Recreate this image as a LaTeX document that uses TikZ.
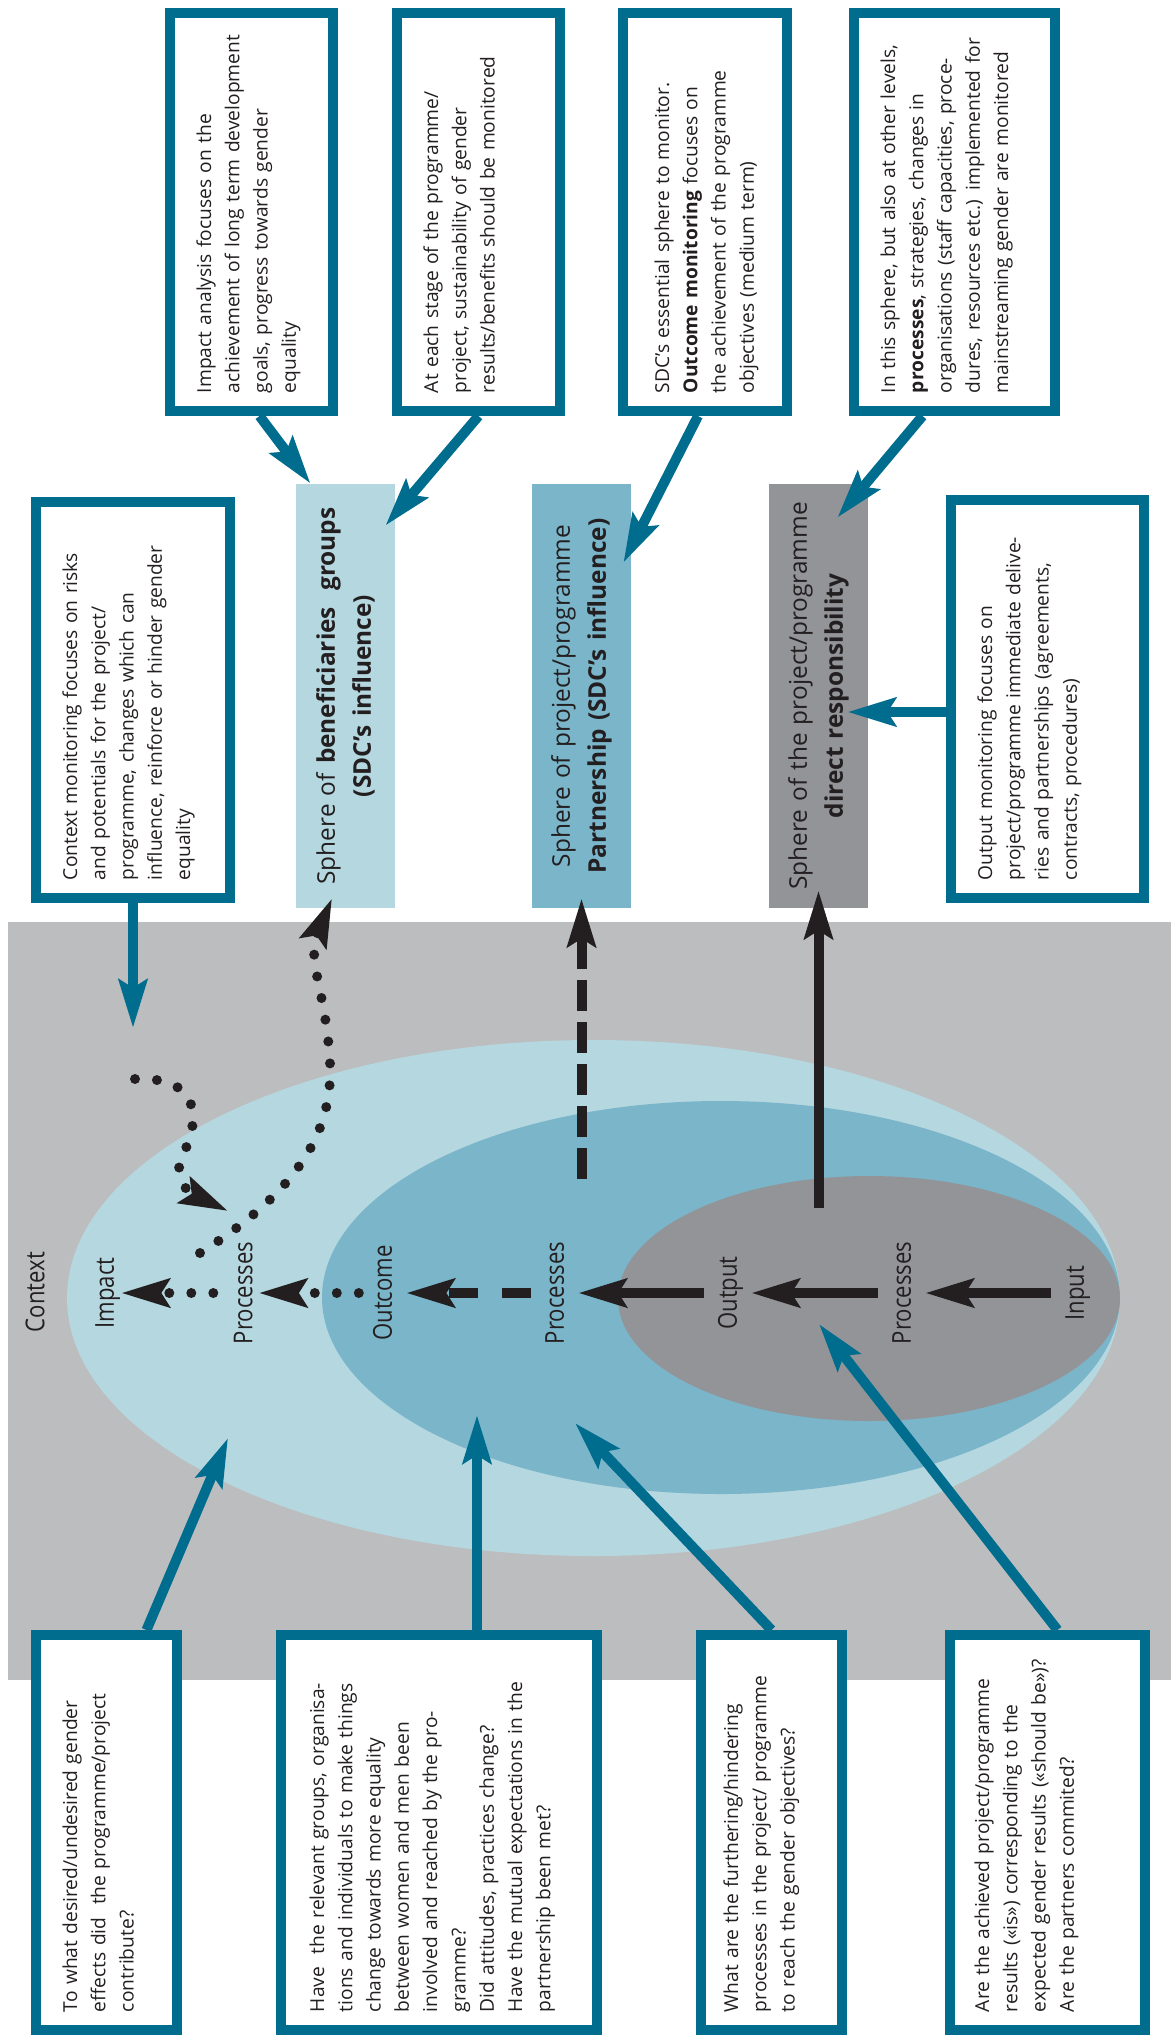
\documentclass[tikz,border=0pt]{standalone}
\usepackage{fontspec}
\setmainfont{Open Sans}
\newfontfamily\lblfamily[FakeStretch=0.85]{Open Sans}
\usetikzlibrary{arrows.meta, calc}
\definecolor{sdcteal}{RGB}{0,108,142}
\definecolor{ctxgray}{RGB}{188,189,191}
\definecolor{benefblue}{RGB}{181,215,224}
\definecolor{partnerblue}{RGB}{122,181,202}
\definecolor{directgray}{RGB}{147,148,152}
\definecolor{ink}{RGB}{35,31,32}
\newcommand{\notefont}{\fontsize{9.6}{14.15}\selectfont}
\newcommand{\spherefont}{\fontsize{12.2}{18}\selectfont}
\newcommand{\lblfont}{\lblfamily\fontsize{13}{15}\selectfont}
\tikzstyle{note} = [rectangle, draw=sdcteal, line width=5pt, fill=white, rotate=90,
align=left, inner xsep=9pt, inner ysep=0pt, text height=20.5pt, font=\notefont, text=ink]
\tikzstyle{sphere} = [rectangle, rotate=90, minimum width=212pt, minimum height=49.5pt,
inner sep=0pt, align=center, text width=211pt, font=\spherefont, text=ink]
\tikzstyle{lbl} = [rotate=90, font=\lblfont, text=ink, text height=9.3pt, text depth=0pt,
inner xsep=0pt, inner ysep=7pt]
\tikzstyle{flow} = [line width=5pt, draw=ink, -{Stealth[length=24pt, width=14pt, inset=4pt]}]
\tikzstyle{dotflow} = [flow, line cap=round, dash pattern=on 0pt off 11pt]
\tikzstyle{pointer} = [line width=5pt, draw=sdcteal, -{Stealth[length=24pt, width=14pt, inset=4pt]}]

\begin{document}
\begin{tikzpicture}[x=0.5pt, y=-0.5pt]
      \useasboundingbox (0,0) rectangle (1171,2044);

      % context field and the nested spheres
      \fill[ctxgray] (8,922) rectangle (1171,1680);
      \fill[benefblue] (593.5,1298) ellipse [x radius=263.25pt, y radius=129pt];
      \fill[partnerblue] (721,1297.5) ellipse [x radius=199.5pt, y radius=98.25pt];
      \fill[directgray] (869,1298.5) ellipse [x radius=125.5pt, y radius=61.25pt];

      \node[sphere, fill=benefblue] (benef) at (345.5,696) {Sphere of \textbf{beneficiaries\ \ groups}\\\textbf{(SDC’s influence)}};
      \node[sphere, fill=partnerblue] (partner) at (581.5,696) {Sphere of project/programme\\\textbf{Partnership (SDC’s influence)}};
      \node[sphere, fill=directgray] (direct) at (818.5,696) {Sphere of the project/programme\\\textbf{direct responsibility}};

      % monitoring notes
      \node[note, text width=181pt, text depth=61pt] (boxA) at (251.5,212) {Impact analysis focuses on the\\achievement of long term development\\goals, progress towards gender\\equality};
      \node[note, text width=181pt, text depth=61pt] (boxB) at (478.5,212) {At each stage of the programme/\\project, sustainability of gender\\results/benefits should be monitored};
      \node[note, text width=181pt, text height=23pt, text depth=59pt] (boxC) at (705,212) {SDC’s essential sphere to monitor.\\\textbf{Outcome monitoring} focuses on\\the achievement of the programme\\objectives (medium term)};
      \node[note, text width=181pt, text depth=80pt] (boxD) at (954.5,212) {In this sphere, but also at other levels,\\\textbf{processes}, strategies, changes in\\organisations (staff capacities, proce-\\dures, resources etc.) implemented for\\mainstreaming gender are monitored};
      \node[note, text width=180pt, text depth=76.5pt] (ctx) at (133,700) {Context monitoring focuses on risks\\and potentials for the project/\\programme, changes which can\\influence, reinforce or hinder gender\\equality};
      \node[note, text width=181pt, text depth=76pt] (outb) at (1047.5,699) {Output monitoring focuses on\\project/programme immediate delive-\\ries and partnerships (agreements,\\contracts, procedures)};

      % questions
      \node[note, text width=179.5pt, text depth=50pt] (q1) at (106.5,1832.5) {To what desired/undesired gender\\effects did\ \ the programme/project\\contribute?};
      \node[note, text width=179.5pt, text height=21.5pt, text depth=136.5pt] (q2) at (439,1832.5) {Have\ \ the relevant groups, organisa-\\tions and individuals to make things\\change towards more equality\\between women and men been\\involved and reached by the pro-\\gramme?\\Did attitudes, practices change?\\Have the mutual expectations in the\\partnership been met?};
      \node[note, text width=179.5pt, text height=18.5pt, text depth=52pt] (q3) at (771.5,1832.5) {What are the furthering/hindering\\processes in the project/ programme\\to reach the gender objectives?};
      \node[note, text width=179.5pt, text height=19.5pt, text depth=78pt] (q4) at (1047.5,1832.5) {Are the achieved project/programme\\results («is») corresponding to the\\expected gender results («should be»)?\\Are the partners commited?};

      % chain labels
      \node[lbl] (context) at (35,1292) {Context};
      \node[lbl] (imp) at (104.5,1293) {Impact};
      \node[lbl] (po) at (243,1293) {Processes};
      \node[lbl] (outc) at (382.5,1293) {Outcome};
      \node[lbl] (pm) at (554.5,1293) {Processes};
      \node[lbl] (outp) at (727.5,1293) {Output};
      \node[lbl] (pi) at (901.5,1293) {Processes};
      \node[lbl] (inp) at (1074.5,1293) {Input};

      \coordinate (c0) at (135,1079);
      \coordinate (c1) at (228,1211);
      \coordinate (d0) at (200,1253);
      \coordinate (e0) at (581.5,1179);
      \coordinate (f0) at (818.5,1208);

      \draw [flow] (inp) -- (pi);
      \draw [flow] (pi) -- (outp);
      \draw [flow] (outp) -- (pm);
      \draw [flow, dash pattern=on 14.5pt off 12pt] (pm) -- (outc);
      \draw [dotflow, shorten >=-4pt] (outc) -- (po);
      \draw [dotflow, shorten <=3pt, shorten >=-3.5pt] (po) -- (imp);

      \draw [dotflow] (c0) .. controls (205,1076) and (200,1125) .. (180,1160)
            .. controls (176,1180) and (186,1191) .. (c1);
      \draw [dotflow] (d0) .. controls (300,1190) and (333,1130) .. (330,1063)
            .. controls (326,990) and (306,960) .. ([xshift=-6.75pt, yshift=5pt]benef.west);
      \draw [flow, dash pattern=on 15.5pt off 5.5pt] (e0) -- ([yshift=5pt]partner.west);
      \draw [flow] (f0) -- ([yshift=9pt]direct.west);

      % pointers from the notes
      \coordinate (tctx) at (133,1028);
      \coordinate (t1) at (228,1438);
      \coordinate (t2) at (477,1415);
      \coordinate (t3) at (575,1423);
      \coordinate (t4) at (819,1324);

      \draw [pointer] ([xshift=4pt]boxA.west) -- ([xshift=-17.5pt]benef.east);
      \draw [pointer] (boxB.west) -- ([xshift=-5pt, yshift=-21pt]benef.south east);
      \draw [pointer] ([xshift=-3.5pt]boxC.west) -- ([xshift=-4pt, yshift=-39.5pt]partner.south east);
      \draw [pointer] ([xshift=-16pt]boxD.west) -- ([xshift=-15.5pt, yshift=-17pt]direct.south east);
      \draw [pointer] (ctx.west) -- (tctx);
      \draw [pointer] ([yshift=-6.5pt]outb.north) -- ([xshift=-10.5pt, yshift=-8pt]direct.south);
      \draw [pointer] ([xshift=20pt]q1.east) -- (t1);
      \draw [pointer] ([xshift=19pt]q2.east) -- (t2);
      \draw [pointer] (q3.east) -- (t3);
      \draw [pointer] ([xshift=5pt]q4.east) -- (t4);

  \end{tikzpicture}
\end{document}
